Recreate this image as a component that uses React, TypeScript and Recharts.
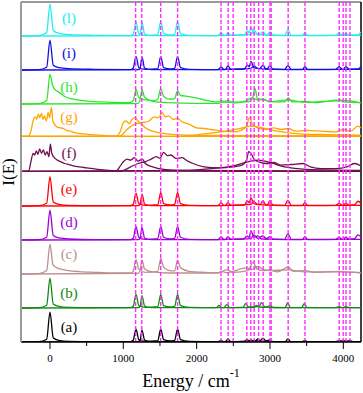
import React from 'react';
import { ComposedChart, Line, XAxis, YAxis, ReferenceLine, ReferenceDot } from 'recharts';

type Pt = [number, number];

// mode energies marked by the dashed magenta lines (cm-1)
const modeLines = [1168, 1252, 1510, 1740, 2332, 2430, 2498, 2684, 2738, 2784, 2845, 2907, 3000, 3016, 3248, 3477, 3944, 3998, 4036, 4091];
const energyTicks = [0, 500, 1000, 1500, 2000, 2500, 3000, 3500, 4000];
const panelNames = ['(a)', '(b)', '(c)', '(d)', '(e)', '(f)', '(g)', '(h)', '(i)', '(l)'];
const panelColors = ['#000000', '#138813', '#bc9090', '#9a00d8', '#ff0000', '#6e1050', '#ffa500', '#2ee52e', '#1010e0', '#22eeee'];
const labelHeights = [0.43, 0.43, 0.6, 0.52, 0.5, 0.57, 0.63, 0.5, 0.5, 0.52];

// spectra, panel-relative intensity
const aMain: Pt[] = [[-395,0],[-150,0.01],[-45,0.08],[0,0.88],[45,0.12],[120,0.05],[260,0.02],[600,0.01],[1100,0.01],[1135,0.05],[1173,0.38],[1213,0.06],[1300,0.02],[1470,0.04],[1510,0.38],[1550,0.07],[1640,0.03],[1700,0.05],[1740,0.38],[1780,0.07],[1900,0.02],[2290,0.01],[2332,0.05],[2370,0.01],[2650,0.02],[2686,0.07],[2720,0.02],[2800,0.03],[2836,0.09],[2870,0.02],[3210,0.01],[3245,0.1],[3280,0.01],[3440,0.01],[3477,0.05],[3510,0.01],[3900,0.01],[3946,0.04],[3990,0.01],[4241,0.01]];
const aSide: Pt[] = [[-395,0],[1210,0.01],[1230,0.06],[1255,0.34],[1290,0.06],[1380,0.01],[2390,0.01],[2427,0.09],[2465,0.01],[2700,0.02],[2741,0.06],[2780,0.03],[2860,0.03],[2905,0.11],[2945,0.03],[3000,0.06],[3040,0.01],[3960,0.01],[4000,0.04],[4036,0.02],[4091,0.04],[4130,0.01],[4241,0.01]];

const bMain: Pt[] = [[-395,0],[-150,0.01],[-45,0.08],[0,0.88],[45,0.12],[120,0.05],[260,0.02],[600,0.01],[1100,0.01],[1135,0.05],[1173,0.4],[1213,0.06],[1300,0.02],[1470,0.04],[1510,0.4],[1550,0.07],[1640,0.03],[1700,0.05],[1740,0.4],[1780,0.07],[1900,0.02],[2270,0.01],[2305,0.08],[2340,0.01],[2630,0.02],[2668,0.13],[2705,0.03],[2850,0.04],[2887,0.16],[2925,0.03],[3205,0.01],[3241,0.16],[3280,0.01],[3430,0.01],[3468,0.13],[3505,0.01],[3900,0.01],[3941,0.04],[3980,0.01],[4241,0.01]];
const bSide: Pt[] = [[-395,0],[1210,0.01],[1230,0.06],[1255,0.36],[1290,0.06],[1380,0.01],[2370,0.01],[2410,0.1],[2450,0.01],[2780,0.02],[2818,0.08],[2850,0.03],[2960,0.02],[3000,0.08],[3040,0.01],[3995,0.01],[4036,0.04],[4080,0.01],[4241,0.01]];

const cMain: Pt[] = [[-395,0],[-150,0.01],[-45,0.1],[0,0.88],[40,0.28],[80,0.2],[150,0.14],[250,0.1],[400,0.07],[600,0.05],[900,0.03],[1100,0.03],[1135,0.08],[1173,0.42],[1210,0.15],[1300,0.05],[1470,0.08],[1510,0.45],[1550,0.2],[1630,0.1],[1700,0.09],[1740,0.4],[1780,0.18],[1900,0.08],[2100,0.05],[2300,0.04],[2409,0.12],[2500,0.05],[2700,0.1],[2770,0.35],[2820,0.15],[2900,0.1],[2995,0.12],[3100,0.06],[3250,0.2],[3320,0.08],[3477,0.1],[3600,0.05],[3941,0.08],[4036,0.06],[4241,0.04]];
const cSide: Pt[] = [[-395,0],[1200,0.02],[1225,0.08],[1255,0.41],[1290,0.15],[1400,0.06],[1600,0.03],[2300,0.03],[2332,0.08],[2400,0.04],[2686,0.18],[2741,0.12],[2836,0.22],[2905,0.14],[3000,0.1],[3245,0.12],[3477,0.06],[3995,0.06],[4241,0.03]];

const dMain: Pt[] = [[-395,0],[-150,0.01],[-45,0.08],[0,0.88],[45,0.13],[120,0.06],[260,0.03],[600,0.01],[1100,0.01],[1135,0.05],[1173,0.39],[1213,0.07],[1300,0.02],[1470,0.04],[1510,0.4],[1550,0.08],[1640,0.03],[1700,0.05],[1740,0.39],[1780,0.08],[1900,0.02],[2290,0.01],[2332,0.09],[2375,0.02],[2640,0.03],[2686,0.12],[2715,0.08],[2741,0.27],[2780,0.08],[2836,0.12],[2880,0.03],[3200,0.02],[3245,0.18],[3290,0.02],[3900,0.02],[3941,0.08],[3980,0.02],[4150,0.03],[4200,0.15],[4241,0.1]];
const dSide: Pt[] = [[-395,0],[1210,0.01],[1230,0.06],[1255,0.36],[1290,0.06],[1380,0.01],[2390,0.01],[2427,0.1],[2465,0.02],[2740,0.04],[2782,0.15],[2830,0.05],[2905,0.12],[2950,0.04],[3000,0.1],[3040,0.02],[3440,0.01],[3477,0.1],[3515,0.01],[3995,0.02],[4036,0.08],[4080,0.02],[4241,0.02]];

const eMain: Pt[] = [[-395,0],[-150,0.01],[-45,0.08],[0,0.86],[45,0.12],[120,0.05],[260,0.02],[600,0.01],[1100,0.01],[1135,0.05],[1173,0.38],[1213,0.06],[1300,0.02],[1470,0.04],[1510,0.4],[1550,0.07],[1640,0.03],[1700,0.05],[1740,0.4],[1780,0.07],[1900,0.02],[2290,0.01],[2332,0.09],[2375,0.02],[2650,0.03],[2690,0.15],[2715,0.1],[2741,0.23],[2785,0.06],[2860,0.04],[2905,0.15],[2945,0.03],[3200,0.02],[3245,0.17],[3290,0.02],[3900,0.02],[3941,0.08],[3985,0.02],[4150,0.03],[4200,0.14],[4241,0.08]];
const eSide: Pt[] = [[-395,0],[1210,0.01],[1230,0.06],[1255,0.35],[1290,0.06],[1380,0.01],[2390,0.01],[2427,0.1],[2465,0.02],[2740,0.05],[2782,0.12],[2830,0.05],[2960,0.03],[3000,0.15],[3040,0.02],[3440,0.01],[3477,0.1],[3515,0.01],[3995,0.02],[4036,0.08],[4080,0.02],[4241,0.02]];

const fLow: Pt[] = [[-395,0.02],[-290,0.03],[-260,0.3],[-230,0.55],[-210,0.5],[-185,0.62],[-165,0.52],[-140,0.68],[-115,0.55],[-90,0.65],[-65,0.5],[-40,0.6],[-15,0.45],[5,0.82],[25,0.55],[60,0.42],[100,0.35],[150,0.3],[200,0.25],[260,0.22],[320,0.18],[400,0.15],[500,0.12],[650,0.08],[800,0.05],[1000,0.03],[4241,0.02]];
const fMid: Pt[] = [[-395,0.02],[900,0.02],[950,0.15],[1000,0.3],[1050,0.38],[1100,0.35],[1150,0.42],[1200,0.32],[1260,0.38],[1300,0.25],[1400,0.15],[1550,0.08],[1800,0.05],[4241,0.03]];
const fHigh: Pt[] = [[-395,0.02],[950,0.02],[1100,0.15],[1200,0.25],[1300,0.3],[1380,0.38],[1450,0.45],[1500,0.4],[1550,0.58],[1600,0.48],[1650,0.5],[1720,0.4],[1800,0.42],[1880,0.32],[1950,0.25],[2100,0.15],[2300,0.12],[2500,0.15],[2620,0.2],[2680,0.35],[2710,0.6],[2740,0.55],[2790,0.35],[2850,0.3],[2950,0.25],[3050,0.28],[3150,0.2],[3300,0.22],[3450,0.25],[3550,0.15],[3700,0.1],[3900,0.1],[4050,0.15],[4150,0.25],[4241,0.18]];
const fBroad: Pt[] = [[-395,0.02],[1900,0.05],[2200,0.1],[2500,0.18],[2700,0.3],[2850,0.35],[3000,0.28],[3200,0.15],[3500,0.08],[4241,0.05]];

const gLow: Pt[] = [[-395,0.05],[-300,0.05],[-260,0.2],[-230,0.5],[-200,0.62],[-180,0.55],[-160,0.7],[-140,0.6],[-115,0.72],[-95,0.55],[-75,0.65],[-50,0.5],[-25,0.75],[-5,0.6],[20,0.9],[40,0.5],[70,0.38],[100,0.32],[140,0.3],[180,0.28],[230,0.22],[280,0.2],[350,0.15],[450,0.12],[550,0.1],[700,0.08],[900,0.06],[1100,0.05],[4241,0.05]];
const gMid: Pt[] = [[-395,0.05],[900,0.05],[960,0.2],[1000,0.45],[1040,0.5],[1080,0.42],[1120,0.55],[1160,0.6],[1200,0.5],[1250,0.4],[1300,0.3],[1400,0.2],[1500,0.15],[1700,0.1],[2000,0.08],[2500,0.07],[4241,0.06]];
const gHigh: Pt[] = [[-395,0.05],[950,0.05],[1050,0.25],[1150,0.4],[1250,0.45],[1350,0.5],[1420,0.62],[1480,0.6],[1530,0.75],[1570,0.62],[1620,0.65],[1680,0.55],[1740,0.58],[1800,0.48],[1900,0.4],[2000,0.3],[2100,0.28],[2200,0.25],[2350,0.2],[2500,0.18],[2600,0.22],[2680,0.35],[2720,0.6],[2760,0.4],[2850,0.28],[2950,0.25],[3050,0.3],[3150,0.25],[3250,0.28],[3350,0.2],[3500,0.22],[3700,0.2],[3900,0.18],[4000,0.25],[4100,0.2],[4200,0.35],[4241,0.3]];
const gBroad: Pt[] = [[-395,0.05],[1800,0.05],[2100,0.12],[2400,0.2],[2600,0.28],[2750,0.35],[2900,0.3],[3100,0.2],[3400,0.12],[3800,0.1],[4241,0.08]];

const hMain: Pt[] = [[-395,0],[-150,0.01],[-45,0.1],[0,0.87],[35,0.55],[70,0.42],[120,0.35],[200,0.22],[300,0.15],[450,0.1],[700,0.06],[1000,0.04],[1100,0.05],[1140,0.12],[1173,0.43],[1210,0.2],[1300,0.12],[1420,0.1],[1470,0.14],[1510,0.45],[1550,0.22],[1640,0.14],[1700,0.16],[1740,0.4],[1780,0.25],[1900,0.22],[2000,0.18],[2100,0.12],[2200,0.08],[2300,0.06],[2332,0.1],[2400,0.05],[2700,0.06],[2760,0.15],[2795,0.46],[2830,0.15],[2905,0.12],[3000,0.08],[3200,0.06],[3250,0.18],[3300,0.06],[3477,0.08],[3600,0.04],[3960,0.12],[4000,0.06],[4241,0.04]];
const hSide: Pt[] = [[-395,0],[1100,0.01],[1200,0.02],[1225,0.1],[1255,0.42],[1290,0.2],[1400,0.08],[1600,0.04],[2000,0.02],[2300,0.02],[2427,0.1],[2500,0.03],[2686,0.1],[2741,0.18],[2836,0.12],[2905,0.15],[3000,0.06],[3245,0.12],[3477,0.05],[4036,0.1],[4241,0.03]];

const iMain: Pt[] = [[-395,0],[-150,0.01],[-45,0.08],[0,0.88],[45,0.14],[120,0.07],[260,0.04],[600,0.02],[1100,0.01],[1135,0.05],[1173,0.4],[1213,0.06],[1300,0.02],[1470,0.04],[1510,0.4],[1550,0.07],[1640,0.03],[1700,0.05],[1740,0.4],[1780,0.07],[1900,0.02],[2290,0.01],[2332,0.09],[2375,0.02],[2650,0.03],[2690,0.14],[2715,0.1],[2741,0.25],[2785,0.06],[2860,0.04],[2905,0.14],[2945,0.03],[3200,0.02],[3245,0.13],[3290,0.02],[3900,0.02],[3941,0.1],[3985,0.02],[4200,0.03],[4241,0.1]];
const iSide: Pt[] = [[-395,0],[1210,0.01],[1230,0.06],[1255,0.38],[1290,0.06],[1380,0.01],[2390,0.01],[2427,0.12],[2465,0.02],[2740,0.05],[2782,0.12],[2830,0.05],[2960,0.03],[3000,0.13],[3040,0.02],[3440,0.01],[3477,0.1],[3515,0.01],[3995,0.02],[4036,0.1],[4080,0.02],[4241,0.02]];

const lMain: Pt[] = [[-395,0],[-150,0.01],[-45,0.1],[0,0.94],[45,0.16],[120,0.08],[260,0.04],[600,0.02],[1100,0.01],[1135,0.05],[1173,0.42],[1213,0.06],[1300,0.02],[1470,0.04],[1510,0.42],[1550,0.07],[1640,0.03],[1700,0.05],[1740,0.42],[1780,0.07],[1900,0.02],[2290,0.01],[2332,0.1],[2375,0.02],[2650,0.03],[2690,0.15],[2715,0.1],[2741,0.25],[2785,0.06],[2860,0.05],[2905,0.12],[2945,0.03],[3200,0.02],[3245,0.17],[3290,0.02],[3900,0.02],[3941,0.1],[3985,0.02],[4200,0.03],[4241,0.12]];
const lSide: Pt[] = [[-395,0],[1210,0.01],[1230,0.06],[1255,0.4],[1290,0.06],[1380,0.01],[2390,0.01],[2427,0.1],[2465,0.02],[2740,0.05],[2790,0.16],[2830,0.05],[2960,0.03],[3000,0.12],[3040,0.02],[3440,0.01],[3477,0.1],[3515,0.01],[3995,0.02],[4036,0.08],[4080,0.02],[4241,0.02]];

const panelCurves: Pt[][][] = [
  [aMain, aSide], [bMain, bSide], [cMain, cSide], [dMain, dSide], [eMain, eSide],
  [fLow, fMid, fHigh, fBroad], [gLow, gMid, gHigh, gBroad],
  [hMain, hSide], [iMain, iSide], [lMain, lSide],
];

const SERIF = "'Liberation Serif', 'Times New Roman', serif";

const EnergyTick = (props: any) => {
  const { x, y, payload } = props;
  const major = payload.value % 1000 === 0;
  return (
    <g>
      <line x1={x} x2={x} y1={y} y2={y + (major ? 7 : 4)} stroke="#000" strokeWidth={1} />
      {major && (
        <text x={x} y={y + 20} textAnchor="middle" fontSize={11} fontFamily={SERIF} fill="#000">
          {payload.value}
        </text>
      )}
    </g>
  );
};

const EnergyTitle = (props: any) => {
  const vb = props.viewBox;
  return (
    <text x={vb.x + vb.width / 2} y={vb.y + 45} textAnchor="middle" fontSize={18} fontFamily={SERIF} fill="#000">
      Energy / cm<tspan dy={-10} fontSize={12}>-1</tspan>
    </text>
  );
};

const IntensityTitle = (props: any) => {
  const vb = props.viewBox;
  const cx = vb.x + 8;
  const cy = vb.y + vb.height / 2;
  return (
    <text x={cx} y={cy} transform={`rotate(-90 ${cx} ${cy})`} textAnchor="middle" dominantBaseline="central" fontSize={17} fontFamily={SERIF} fill="#000">
      I(E)
    </text>
  );
};

export default function App() {
  return (
    <div style={{ position: 'absolute', left: 0, top: 0, width: 363, height: 393, background: '#fff' }}>
      <ComposedChart width={363} height={393} margin={{ top: 2, right: 2, left: 0, bottom: 0 }}>
        <XAxis
          dataKey="x"
          type="number"
          domain={[-395, 4241]}
          allowDataOverflow
          ticks={energyTicks}
          interval={0}
          tickSize={0}
          tickMargin={0}
          tickLine={false}
          tick={EnergyTick}
          axisLine={{ stroke: '#000', strokeWidth: 1.5 }}
          height={51}
          label={{ content: EnergyTitle }}
        />
        <YAxis
          type="number"
          domain={[0, 10]}
          allowDataOverflow
          width={21}
          tick={false}
          tickLine={false}
          axisLine={{ stroke: '#9a9a9a', strokeWidth: 2 }}
          label={{ content: IntensityTitle }}
        />
        <ReferenceLine y={10} stroke="#9a9a9a" strokeWidth={2} />
        <ReferenceLine x={4241} stroke="#000" strokeWidth={1.5} />
        {panelCurves.map((curves, k) =>
          curves.map((pts, j) => (
            <Line
              key={`${k}-${j}`}
              data={pts.map(([x, y]) => ({ x, y: y + k }))}
              dataKey="y"
              type="monotone"
              stroke={panelColors[k]}
              strokeWidth={1.3}
              dot={false}
              activeDot={false}
              isAnimationActive={false}
            />
          ))
        )}
        {modeLines.map((e) => (
          <ReferenceLine key={e} x={e} stroke="#ff2cff" strokeWidth={1.4} strokeDasharray="4 2" />
        ))}
        {panelNames.map((name, k) => (
          <ReferenceDot
            key={name}
            x={259}
            y={k + labelHeights[k]}
            r={0}
            shape={(p: any) => (
              <text x={p.cx} y={p.cy} textAnchor="middle" dominantBaseline="central" fontSize={15} fontFamily={SERIF} fill={panelColors[k]}>
                {name}
              </text>
            )}
          />
        ))}
      </ComposedChart>
    </div>
  );
}
